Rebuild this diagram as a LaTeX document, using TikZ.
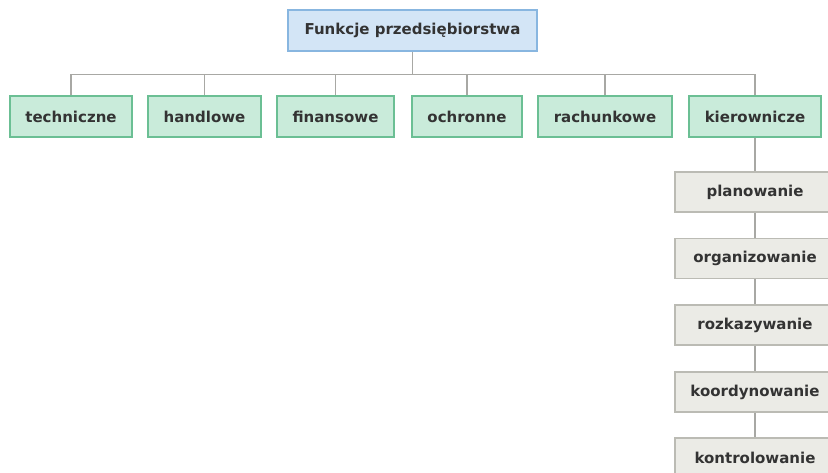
\documentclass[tikz,border=0pt]{standalone}
\usepackage{fontspec}
\setmainfont{DejaVu Sans}
\definecolor{rootfill}{HTML}{D3E5F6}
\definecolor{rootdraw}{HTML}{88B6E0}
\definecolor{grnfill}{HTML}{C9EBDA}
\definecolor{grndraw}{HTML}{6BBF94}
\definecolor{gryfill}{HTML}{EBEBE6}
\definecolor{grydraw}{HTML}{BBBBB4}
\definecolor{txt}{HTML}{333333}
\definecolor{conn}{HTML}{A8A8A4}
\begin{document}
\begin{tikzpicture}[x=1pt,y=-1pt,
  boxbase/.style={rectangle, line width=1.2pt, inner sep=0pt, font=\bfseries\fontsize{15}{17}\selectfont, text=txt},
  rootbox/.style={boxbase, fill=rootfill, draw=rootdraw, minimum height=41pt},
  grnbox/.style={boxbase, fill=grnfill, draw=grndraw, minimum height=41pt},
  grybox/.style={boxbase, fill=gryfill, draw=grydraw, minimum height=40pt, minimum width=160pt},
  link/.style={draw=conn, line width=1.1pt}]
\useasboundingbox (0,0) rectangle (828,473);
\clip (0,0) rectangle (828,473);
\node[rootbox, minimum width=249pt] (root) at (412.5,30.5) {Funkcje przedsiębiorstwa};
\node[grnbox, minimum width=122pt] (f1) at (71,116.5) {techniczne};
\node[grnbox, minimum width=113pt] (f2) at (204.5,116.5) {handlowe};
\node[grnbox, minimum width=117pt] (f3) at (335.5,116.5) {finansowe};
\node[grnbox, minimum width=110pt] (f4) at (467,116.5) {ochronne};
\node[grnbox, minimum width=134pt] (f5) at (605,116.5) {rachunkowe};
\node[grnbox, minimum width=132pt] (f6) at (755,116.5) {kierownicze};
\node[grybox] (k1) at (755,192) {planowanie};
\node[grybox] (k2) at (755,258.5) {organizowanie};
\node[grybox] (k3) at (755,325) {rozkazywanie};
\node[grybox] (k4) at (755,392) {koordynowanie};
\node[grybox] (k5) at (755,458) {kontrolowanie};
\coordinate (bus) at (412.5,74.5);
\path[link] (root.south) -- (bus);
\foreach \f in {f1,f2,f3,f4,f5,f6}{
  \path[link] (bus -| \f.north) -- (\f.north);
}
\path[link] (bus -| f1.north) -- (bus -| f6.north);
\path[link] (f6.south) -- (k1.north);
\path[link] (k1.south) -- (k2.north);
\path[link] (k2.south) -- (k3.north);
\path[link] (k3.south) -- (k4.north);
\path[link] (k4.south) -- (k5.north);
\end{tikzpicture}
\end{document}
